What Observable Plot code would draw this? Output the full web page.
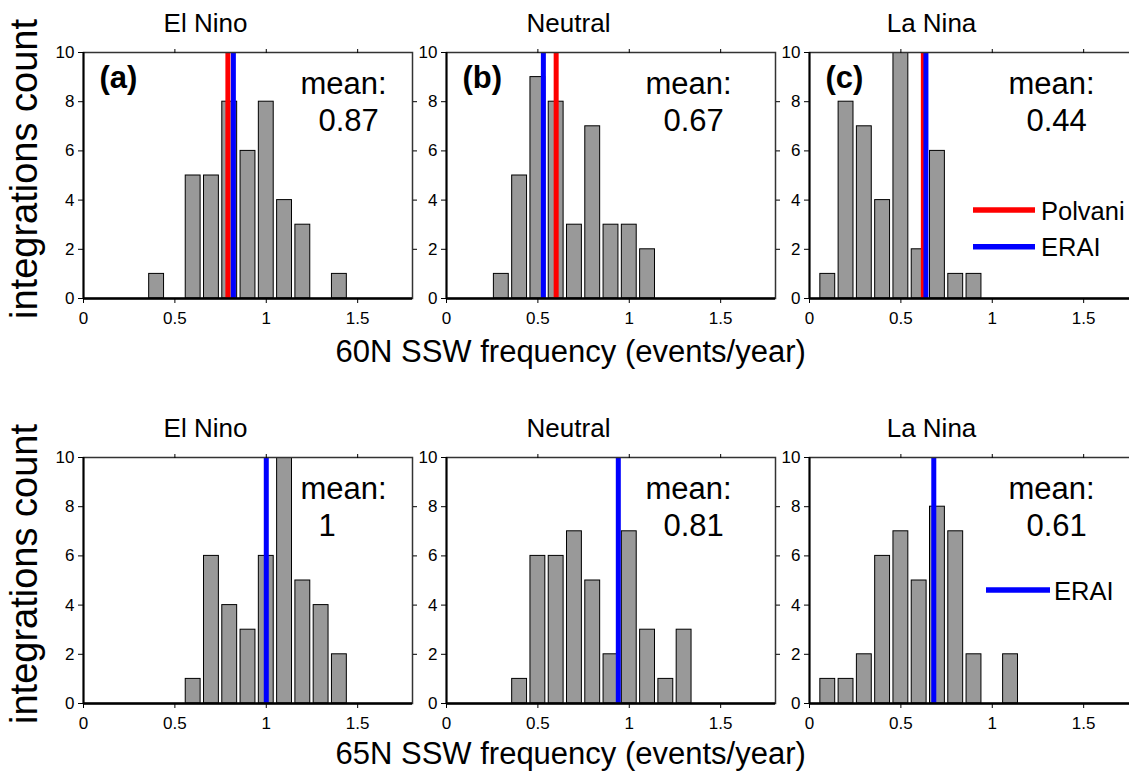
<!DOCTYPE html>
<html>
<head>
<meta charset="utf-8">
<script src="https://cdn.jsdelivr.net/npm/d3@7"></script>
<script src="https://cdn.jsdelivr.net/npm/@observablehq/plot@0.6"></script>
<style>
html, body { margin: 0; padding: 0; background: #fff; }
#fig { position: relative; width: 1129px; height: 772px; overflow: hidden; }
#fig > svg { position: absolute; }
</style>
</head>
<body>
<div id="fig"></div>
<script>
// ---------- data ----------
const bins = [0.1, 0.2, 0.3, 0.4, 0.5, 0.6, 0.7, 0.8, 0.9, 1.0, 1.1, 1.2, 1.3, 1.4];
const phases = ["El Nino", "Neutral", "La Nina"];
const panelLetters = ["(a)", "(b)", "(c)"];

const counts60N_ElNino = [0, 0, 0, 1, 0, 5, 5, 8, 6, 8, 4, 3, 0, 1];
const counts60N_Neutral = [0, 0, 1, 5, 9, 8, 3, 7, 3, 3, 2, 0, 0, 0];
const counts60N_LaNina = [1, 8, 7, 4, 11, 2, 6, 1, 1, 0, 0, 0, 0, 0];
const counts65N_ElNino = [0, 0, 0, 0, 0, 1, 6, 4, 3, 6, 10, 5, 4, 2];
const counts65N_Neutral = [0, 0, 0, 1, 6, 6, 7, 5, 2, 7, 3, 1, 3, 0];
const counts65N_LaNina = [1, 1, 2, 6, 7, 5, 8, 7, 2, 0, 2, 0, 0, 0];

const means60N = [0.87, 0.67, 0.44];
const means65N = [1, 0.81, 0.61];

const polvani60N = [0.79, 0.60, 0.623];
const erai60N = [0.82, 0.53, 0.637];
const erai65N = [1.0, 0.94, 0.68];

const xTicks = [0, 0.5, 1, 1.5];
const yTicks = [0, 2, 4, 6, 8, 10];
const xLabels = ["60N SSW frequency (events/year)", "65N SSW frequency (events/year)"];
const yLabel = "integrations count";
const legend60N = [{label: "Polvani", color: "#ff0000"}, {label: "ERAI", color: "#0000ff"}];
const legend65N = [{label: "ERAI", color: "#0000ff"}];

// ---------- layout ----------
const FONT = '"Liberation Sans", Arial, Helvetica, sans-serif';
const fig = document.getElementById("fig");
const W = 329, H = 246, ML = 45, MR = 12, MT = 40, MB = 40;
const colX = [83, 446, 809], rowY = [52, 457];
const meanDx = [217, 199, 199];

function panel(counts, mean, refs, title, letter, col, row) {
  const data = bins.map((b, i) => ({bin: b, count: counts[i]})).filter(d => d.count > 0);
  const marks = [
    Plot.rectY(data, {
      x1: d => d.bin - 0.05, x2: d => d.bin + 0.05, y: "count",
      insetLeft: 1.7, insetRight: 1.7,
      fill: "#999999", stroke: "#000", strokeWidth: 1, clip: true
    }),
    ...refs.map(r => Plot.ruleX([r.value], {stroke: r.color, strokeWidth: 5})),
    Plot.frame({stroke: "#333", strokeWidth: 1.5}),
    Plot.ruleX([0], {stroke: "#000", strokeWidth: 2}),
    Plot.ruleY([0], {stroke: "#000", strokeWidth: 2.5}),
    Plot.axisX({ticks: xTicks, tickSize: 5, tickPadding: 8, tickFormat: d => String(d), fontSize: 17, label: null}),
    Plot.axisY({ticks: yTicks, tickSize: 5, tickPadding: 4, tickFormat: d => String(d), fontSize: 17, label: null}),
    Plot.axisX({anchor: "top", ticks: xTicks.slice(1), tickSize: 4, tickFormat: () => "", label: null}),
    Plot.axisY({anchor: "right", ticks: yTicks.slice(1, -1), tickSize: 4, tickFormat: () => "", label: null}),
    Plot.text([title], {frameAnchor: "top-left", dx: 122, dy: -21, text: d => d, textAnchor: "middle", lineAnchor: "bottom", fontSize: 26, fill: "#000"}),
    Plot.text(["mean:"], {frameAnchor: "top-left", dx: meanDx[col], dy: 41, text: d => d, textAnchor: "start", lineAnchor: "bottom", fontSize: 31, fill: "#000"}),
    Plot.text([mean], {frameAnchor: "top-left", dx: meanDx[col] + 18, dy: 78, text: d => String(d), textAnchor: "start", lineAnchor: "bottom", fontSize: 31, fill: "#000"})
  ];
  if (letter) {
    marks.push(Plot.text([letter], {frameAnchor: "top-left", dx: 16, dy: 35, text: d => d, textAnchor: "start", lineAnchor: "bottom", fontSize: 31, fontWeight: "bold", fill: "#000"}));
  }
  const svg = Plot.plot({
    width: ML + W + MR, height: MT + H + MB,
    marginLeft: ML, marginRight: MR, marginTop: MT, marginBottom: MB,
    x: {domain: [0, 1.8]},
    y: {domain: [0, 10]},
    style: {background: "none", fontFamily: FONT, fontSize: "17px", color: "#000", maxWidth: "none", overflow: "visible"},
    marks
  });
  svg.style.left = (colX[col] - ML) + "px";
  svg.style.top = (rowY[row] - MT) + "px";
  fig.appendChild(svg);
}

const rows = [
  {counts: [counts60N_ElNino, counts60N_Neutral, counts60N_LaNina], means: means60N,
   refs: i => [{value: polvani60N[i], color: "#ff0000"}, {value: erai60N[i], color: "#0000ff"}], letters: panelLetters},
  {counts: [counts65N_ElNino, counts65N_Neutral, counts65N_LaNina], means: means65N,
   refs: i => [{value: erai65N[i], color: "#0000ff"}], letters: [null, null, null]}
];
rows.forEach((r, row) => {
  phases.forEach((p, col) => panel(r.counts[col], r.means[col], r.refs(col), p, r.letters[col], col, row));
});

// ---------- overlay: axis titles and legends ----------
const ov = d3.select(fig).append("svg")
  .attr("width", 1129).attr("height", 772)
  .style("left", "0px").style("top", "0px")
  .style("font-family", FONT);

rowY.forEach(y0 => {
  ov.append("text")
    .attr("transform", `translate(37,${y0 + 117}) rotate(-90)`)
    .attr("text-anchor", "middle").attr("font-size", 38).attr("fill", "#000")
    .text(yLabel);
});
const xLabelBase = [362, 764];
xLabels.forEach((t, i) => {
  ov.append("text").attr("x", 335.5).attr("y", xLabelBase[i])
    .attr("font-size", 31).attr("fill", "#000").text(t);
});

function drawLegend(items, x1, x2, y0, step, textX) {
  items.forEach((it, i) => {
    const y = y0 + i * step;
    ov.append("line").attr("x1", x1).attr("x2", x2).attr("y1", y).attr("y2", y)
      .attr("stroke", it.color).attr("stroke-width", 5.5);
    ov.append("text").attr("x", textX).attr("y", y + 9.5)
      .attr("font-size", 25.5).attr("fill", "#000").text(it.label);
  });
}
drawLegend(legend60N, 973, 1035, 210, 36.7, 1041);
drawLegend(legend65N, 986, 1050, 590, 0, 1054);
</script>
</body>
</html>
